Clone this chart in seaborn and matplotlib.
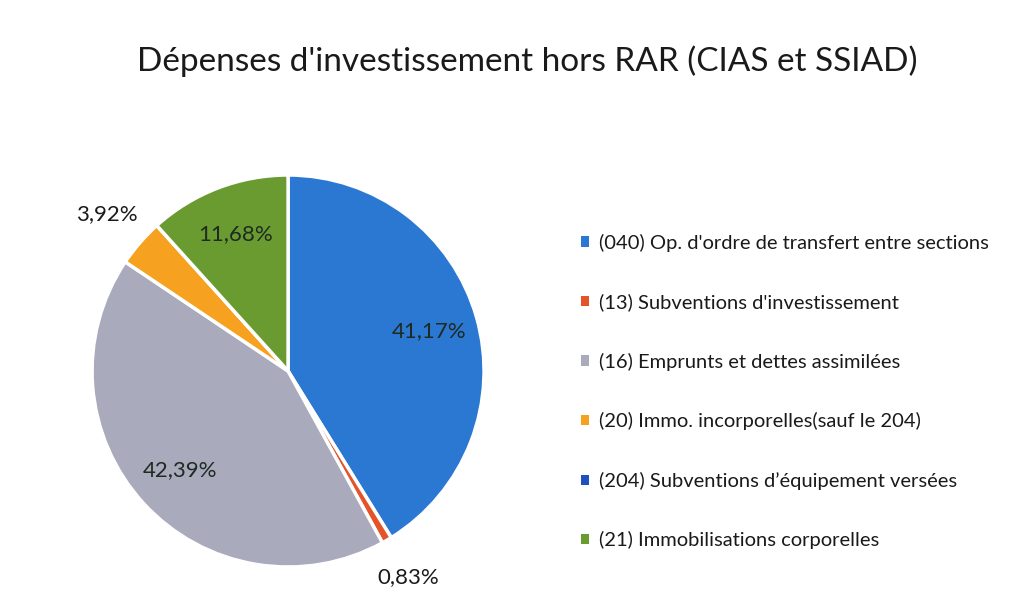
import numpy as np
import matplotlib
matplotlib.use("Agg")
import matplotlib.pyplot as plt
import seaborn as sns

title = "Dépenses d'investissement hors RAR (CIAS et SSIAD)"
categories = [
    "(040) Op. d'ordre de transfert entre sections",
    "(13) Subventions d'investissement",
    "(16) Emprunts et dettes assimilées",
    "(20) Immo. incorporelles(sauf le 204)",
    "(204) Subventions d\u2019équipement versées",
    "(21) Immobilisations corporelles",
]
shares = [41.17, 0.83, 42.39, 3.92, 0.0, 11.68]
colors = ["#2b78d3", "#e4542a", "#a9abbc", "#f6a120", "#1f4fbf", "#6a9b30"]
outside = [False, True, False, True, False, False]

sns.set_theme(style="white")
plt.rcParams['font.family'] = ['Lato', 'DejaVu Sans']

fig = plt.figure(figsize=(10.33, 6.07), dpi=100)
ax = fig.add_axes([0.0891, 0.0659, 0.3795, 0.6458])

wedges, _ = ax.pie(shares, colors=colors, startangle=90, counterclock=False,
                   radius=1.0, wedgeprops=dict(edgecolor="white", linewidth=2.5))
ax.set_xlim(-1, 1)
ax.set_ylim(-1, 1)
ax.set_aspect("equal")

for w, val, out in zip(wedges, shares, outside):
    if val <= 0:
        continue
    ang = np.deg2rad((w.theta1 + w.theta2) / 2)
    d = 1.22 if out else 0.75
    txt = f"{val:.2f}%".replace(".", ",")
    col = "#1a1a1a" if out else "#1f2a22"
    ax.text(d * np.cos(ang), d * np.sin(ang), txt, ha="center", va="center",
            fontsize=16, color=col, clip_on=False)

fig.text(0.51, 0.9, title, ha="center", va="center", fontsize=24, color="#1a1a1a")

leg = fig.legend(wedges, categories, loc="center left", bbox_to_anchor=(0.545, 0.355),
                 frameon=False, fontsize=14.5, handlelength=0.4, handleheight=0.4,
                 handletextpad=0.5, labelspacing=2.06)
for h in leg.legend_handles:
    h.set_edgecolor("none")
for t in leg.get_texts():
    t.set_color("#1a1a1a")

fig.savefig("out.png", dpi=100, facecolor="white")
